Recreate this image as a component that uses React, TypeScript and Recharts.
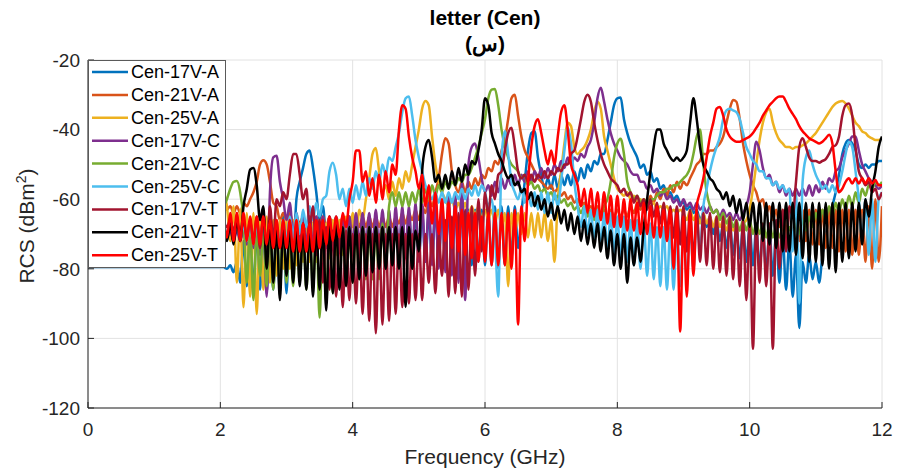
import React from 'react';
import { LineChart, Line, XAxis, YAxis, CartesianGrid } from 'recharts';

const FONT = '"Liberation Sans", Arial, Helvetica, sans-serif';

// Frequency axis (GHz): a few points before 2 GHz, then a 0.05 GHz grid from 2 to 12 GHz
const PREFIX_FREQ = [0, 0.5, 1, 1.5];
const GRID_FREQ = Array.from({ length: 201 }, (_, i) => Math.round((2 + i * 0.05) * 100) / 100);
const FREQ = [...PREFIX_FREQ, ...GRID_FREQ];

const X_TICKS = [0, 2, 4, 6, 8, 10, 12];
const Y_TICKS = [-120, -100, -80, -60, -40, -20];

// RCS values (dBm^2) on the 2..12 GHz grid, one row per GHz (2.00..2.95, 3.00..3.95, ...), last value = 12 GHz
const A17_PREFIX = [-79.5, -79.5, -79.5, -79.5];
const A17 = [
  -79.5, -79.5, -80, -79, -81, -78, -84, -72, -85, -70, -86, -69, -86, -68, -87, -67, -86, -66, -87, -65,
  -87, -63, -75, -60, -55, -51, -47, -46, -51, -58, -66, -62, -70, -65, -72, -66, -74, -66, -75, -67,
  -76, -66, -77, -66, -76, -65, -77, -66, -76, -65, -77, -65, -76, -65, -77, -64, -76, -64, -77, -64,
  -77, -64, -78, -64, -77, -63, -78, -63, -77, -63, -78, -63, -78, -63, -78, -63, -79, -63, -78, -63,
  -79, -63, -79, -62, -80, -62, -79, -62, -77, -62, -74, -64, -55, -46, -41, -40.5, -48, -53, -57, -54,
  -57, -53, -57, -53, -56, -53, -56, -52, -55, -51, -54, -50, -52, -49, -50, -47, -47, -43, -38, -33,
  -31, -30.8, -37, -41, -44, -46, -48, -51, -50, -53, -52, -55, -54, -57, -56, -59, -58, -60, -59, -61,
  -61, -63, -62, -64, -63, -66, -64, -68, -65, -70, -66, -72, -67, -74, -67, -76, -68, -77, -68, -78,
  -68, -79, -68, -80, -69, -81, -69, -82, -70, -84, -71, -86, -72, -88, -76, -97, -78, -84, -76, -83,
  -78, -84, -76, -70, -66, -62, -58, -53, -47, -44, -43, -44, -46, -50, -51, -50, -51, -50, -50, -49,
  -49,
];
const A21 = [
  null, -62, -63, -62, -64, -62, -64, -61, -62, -60, -58, -55, -50, -48.8, -50, -55, -61, -62, -66, -64,
  -66, -64, -67, -65, -67, -65, -68, -65, -68, -65, -68, -65, -68, -65, -68, -65, -68, -65, -68, -65,
  -68, -65, -68, -65, -68, -65, -68, -65, -68, -65, -68, -65, -68, -65, -67, -64, -67, -64, -66, -63,
  -66, -62, -64, -60, -62, -58, -54, -47, -42.5, -44, -52, -56, -58, -55, -58, -55, -57, -54, -56, -53,
  -54, -51, -52, -49, -50, -46, -43, -37, -31, -30, -36, -42, -46, -48, -50, -52, -54, -55, -56, -57,
  -56, -58, -57, -59, -58, -60, -59, -61, -60, -62, -61, -63, -62, -64, -62, -65, -63, -65, -63, -65,
  -63, -65, -63, -65, -62, -64, -61, -63, -60, -62, -59, -61, -58, -60, -57, -59, -56, -58, -55, -57,
  -55, -56, -54, -52, -50, -49, -47, -47, -46, -46, -45, -44, -42, -38, -34, -31.5, -32, -37, -44, -49,
  -53, -56, -58, -61, -60, -64, -62, -66, -63, -68, -63, -70, -63, -71, -63, -72, -63, -72, -63, -73,
  -63, -73, -63, -74, -63, -74, -63, -75, -63, -75, -63, -76, -63, -76, -63, -78, -62, -80, -60, -78,
  -62,
];
const A25 = [
  null, -58, -62, -72, -62, -84, -63, -91, -64, -88, -64, -93, -65, -86, -65, -84, -66, -82, -66, -80,
  -66, -80, -66, -79, -67, -78, -67, -78, -67, -78, -67, -77, -67, -77, -66, -76, -66, -76, -65, -74,
  -64, -72, -63, -66, -60, -54, -47, -45.3, -52, -58, -56, -60, -55, -59, -54, -57, -52, -55, -50, -45,
  -40, -34, -31.8, -33, -42, -50, -55, -58, -60, -62, -60, -63, -61, -64, -61, -65, -62, -65, -62, -66,
  -63, -66, -63, -67, -63, -68, -64, -85, -64, -70, -64, -70, -64, -71, -64, -71, -64, -71, -64, -72,
  -66, -78, -60, -52, -44, -38, -39, -45, -47, -46, -45, -43, -40, -35, -32, -34, -42, -46, -50, -54,
  -57, -58, -59, -58, -60, -59, -61, -60, -62, -61, -62, -61, -63, -62, -63, -62, -64, -63, -64, -63,
  -64, -66, -63, -66, -64, -67, -64, -67, -65, -68, -65, -68, -66, -69, -66, -69, -67, -69, -67, -66,
  -63, -57, -50, -43, -38, -35, -34, -38, -41, -43, -44, -45, -45, -45.5, -45, -45, -44.5, -44, -43, -42,
  -41, -39.5, -38, -36.5, -35, -33.5, -32.5, -32, -31.8, -32.5, -34, -36, -38, -39, -40.5, -41, -42, -42.5, -43, -43,
  -42.5,
];
const C17 = [
  null, -70, -71, -69, -72, -69, -72, -69, -73, -68, -74, -67, -76, -64, -88, -58, -48, -47.5, -55, -60,
  -66, -61, -70, -64, -72, -65, -73, -65, -73, -65, -74, -65, -74, -65, -74, -65, -74, -65, -73, -65,
  -73, -64, -73, -64, -74, -64, -74, -63, -75, -63, -75, -63, -76, -62, -76, -62, -77, -62, -77, -61,
  -78, -61, -78, -61, -79, -60, -80, -60, -81, -59, -82, -58, -84, -55, -89, -50, -45, -44, -48, -54,
  -58, -56, -59, -55, -58, -54, -57, -54, -56, -53, -56, -53, -55, -52, -55, -52, -54, -51, -54, -51,
  -53, -50, -52, -49, -51, -48, -50, -48, -49, -47, -48, -45, -43, -38, -31, -28, -32, -37, -41, -44,
  -46, -48, -49, -50, -52, -53, -53, -55, -55, -57, -56, -58, -57, -59, -58, -60, -59, -61, -60, -62,
  -60, -62, -61, -63, -61, -63, -62, -64, -62, -64, -63, -65, -63, -65, -64, -66, -64, -66, -64, -62,
  -58, -50, -43.5, -46, -51, -54, -53, -56, -55, -58, -56, -59, -57, -59, -57, -59, -57, -59, -56, -59,
  -56, -58, -55, -57, -54, -55, -52, -51, -48, -46, -44, -42, -42, -46, -50, -52, -54, -55, -56, -57,
  -56,
];
const C21 = [
  null, -62, -60, -57, -55, -54.8, -58, -66, -84, -67, -89, -68, -82, -68, -85, -68, -86, -68, -84, -68,
  -84, -68, -85, -68, -84, -68, -86, -68, -86, -68, -94, -68, -90, -68, -87, -68, -85, -68, -84, -68,
  -84, -68, -83, -68, -83, -68, -83, -68, -83, -67, -80, -62, -58, -62, -58, -62, -58, -62, -58, -61,
  -57, -61, -57, -60, -56, -59, -56, -58, -55, -57, -55, -56, -54, -55, -53, -53, -51, -48, -45, -41,
  -37, -31, -28.5, -28.3, -33, -40, -45, -48, -50, -51, -52, -54, -53, -56, -55, -57, -56, -58, -57, -59,
  -58, -60, -59, -61, -60, -62, -61, -63, -62, -64, -62, -65, -63, -66, -63, -66, -62, -60, -55, -48,
  -44, -42.6, -47, -55, -58, -60, -59, -61, -60, -61, -60, -60, -59, -58, -58, -57, -57, -56, -56, -55,
  -54, -53, -51, -47, -42, -40, -50, -58, -62, -64, -63, -66, -64, -67, -65, -68, -66, -69, -66, -69,
  -66, -70, -67, -70, -67, -71, -67, -71, -68, -71, -68, -71, -68, -71, -67, -70, -66, -69, -65, -68,
  -64, -67, -63, -66, -62, -65, -61, -64, -60, -63, -59, -62, -58, -61, -57, -59, -56, -57, -55, -56,
  -55,
];
const C25 = [
  null, -66, -70, -67, -71, -67, -72, -67, -72, -67, -73, -67, -73, -67, -73, -67, -73, -67, -73, -66,
  -72, -65, -71, -64, -70, -63, -68, -62, -66, -61, -65, -60, -59, -52, -49.5, -53, -60, -57, -62, -57,
  -61, -56, -60, -55, -59, -54, -57, -52, -55, -50, -53, -48, -49, -45, -41, -35, -31, -30.5, -36, -43,
  -48, -52, -56, -58, -60, -58, -61, -58, -61, -58, -61, -58, -60, -57, -60, -57, -59, -56, -59, -56,
  -58, -62, -60, -70, -88, -48, -40.5, -47, -55, -58, -60, -57, -61, -58, -62, -58, -63, -58, -64, -58,
  -64, -58, -62, -55, -46, -39.5, -44, -55, -62, -68, -62, -70, -63, -72, -63, -73, -64, -75, -64, -76,
  -65, -77, -65, -78, -66, -79, -66, -80, -67, -82, -67, -83, -68, -85, -68, -86, -68, -86, -68, -85,
  -68, -83, -68, -80, -66, -74, -62, -57, -52, -48, -45, -42, -37, -34.5, -34, -34.5, -35, -37, -41, -45,
  -47, -49, -50, -52, -52, -54, -54, -56, -55, -57, -56, -58, -57, -75, -58, -90, -55, -48, -46, -50,
  -53, -55, -57, -56, -58, -56, -58, -56, -52, -47, -43.5, -45, -52, -60, -72, -60, -76, -60, -78, -60,
  -58,
];
const T17 = [
  null, -66, -68, -66, -69, -66, -70, -66, -71, -66, -72, -65, -74, -64, -75, -62, -72, -60, -62, -58,
  -60, -53, -47, -47, -53, -60, -57, -68, -62, -76, -66, -84, -68, -86, -69, -88, -69, -91, -69, -89,
  -70, -90, -70, -93, -70, -95, -70, -98.5, -70, -96, -70, -95, -70, -93, -70, -91, -70, -90, -70, -89,
  -70, -89, -70, -84, -70, -87, -70, -82, -66, -88, -65, -87, -64, -88, -63, -86, -62, -82, -60, -75,
  -58, -65, -56, -60, -53, -52, -46, -41, -39.5, -45, -52, -54, -53, -55, -53, -55, -53, -54, -52, -54,
  -52, -53, -51, -52, -50, -50, -47, -46, -42, -37, -32, -30, -32, -38, -43, -47, -50, -52, -54, -55,
  -56, -58, -57, -59, -58, -61, -59, -62, -60, -63, -60, -65, -61, -67, -61, -69, -62, -71, -62, -73,
  -62, -75, -63, -77, -63, -78, -64, -79, -64, -80, -65, -81, -65, -82, -65, -83, -66, -85, -66, -89,
  -67, -103, -67, -84, -67, -85, -67, -103, -66, -80, -63, -75, -62, -65, -55, -45, -42.5, -45, -48, -49,
  -49, -49.5, -49, -48.5, -47, -45, -44.5, -42, -36, -33, -32.5, -36, -45, -52, -54, -56, -55, -58, -57, -60,
  -58,
];
const T21 = [
  null, -68, -72, -67, -73, -66, -72, -62, -57, -51.5, -51, -56, -66, -62, -80, -66, -84, -67, -89, -67,
  -82, -67, -84, -67, -85, -67, -86, -67, -88, -67, -86, -67, -92, -67, -87, -67, -86, -68, -85, -68,
  -84, -68, -83, -68, -82, -68, -81, -68, -80, -68, -80, -68, -79, -68, -80, -68, -91, -68, -80, -69,
  -75, -52, -45, -43, -48, -55, -53, -57, -53, -57, -52, -56, -51, -55, -50, -53, -49, -50, -46, -40,
  -31, -33, -41, -44, -47, -49, -52, -54, -53, -56, -55, -58, -57, -60, -58, -62, -59, -63, -60, -65,
  -61, -66, -62, -67, -63, -69, -64, -70, -65, -72, -66, -73, -67, -74, -67, -75, -68, -77, -69, -79,
  -70, -80, -70, -84, -71, -79, -71, -78, -68, -60, -52, -45, -40, -40, -44, -46, -48, -49, -48, -49,
  -48, -46, -38, -31, -37, -45, -50, -52, -54, -55, -57, -58, -60, -58, -62, -59, -64, -60, -66, -61,
  -68, -61, -70, -61, -72, -61, -73, -61, -74, -61, -75, -61, -75, -61, -76, -61, -77, -61, -78, -61,
  -78, -61, -79, -61, -80, -61, -81, -61, -78, -61, -77, -61, -75, -61, -73, -60, -65, -57, -52, -45,
  -42,
];
const T25 = [
  null, -64, -71, -64, -72, -64, -72, -64, -72, -65, -73, -65, -73, -65, -73, -66, -74, -66, -74, -66,
  -74, -66, -75, -66, -75, -67, -75, -67, -75, -66, -74, -66, -73, -65, -72, -65, -71, -64, -68, -60,
  -55, -46, -46, -55, -52, -59, -54, -61, -53, -60, -52, -58, -50, -53, -40, -33, -34, -42, -48, -52,
  -57, -53, -62, -56, -67, -58, -70, -60, -72, -61, -74, -62, -75, -63, -76, -64, -77, -64, -78, -65,
  -78, -64, -79, -64, -79, -64, -79, -64, -80, -63, -96, -62, -72, -55, -45, -39, -37, -41, -46, -50,
  -46, -50, -42, -35, -33, -40, -50, -53, -56, -62, -57, -64, -57, -65, -58, -66, -58, -67, -59, -68,
  -59, -68, -60, -69, -60, -69, -61, -70, -61, -70, -62, -71, -62, -71, -63, -72, -63, -80, -64, -98,
  -65, -88, -64, -82, -62, -58, -54, -48, -42, -38, -34, -33.5, -36, -40, -42, -43, -43.5, -43.5, -43, -42.5,
  -42, -41, -39.5, -38, -36, -34.5, -33, -32, -31, -30.5, -30.5, -32, -34, -35.5, -37, -39, -40.5, -41.5, -42.5, -43,
  -43.5, -44, -43.5, -42.5, -41.5, -44, -52, -58, -57, -55, -54, -55.5, -54, -55.5, -54, -55.5, -54, -55.5, -54.5, -56,
  -56,
];

const NO_PREFIX = [null, null, null, null];

const SERIES = [
  { key: 'a17', name: 'Cen-17V-A', color: '#0072BD', values: [...A17_PREFIX, ...A17] },
  { key: 'a21', name: 'Cen-21V-A', color: '#D95319', values: [...NO_PREFIX, ...A21] },
  { key: 'a25', name: 'Cen-25V-A', color: '#EDB120', values: [...NO_PREFIX, ...A25] },
  { key: 'c17', name: 'Cen-17V-C', color: '#7E2F8E', values: [...NO_PREFIX, ...C17] },
  { key: 'c21', name: 'Cen-21V-C', color: '#77AC30', values: [...NO_PREFIX, ...C21] },
  { key: 'c25', name: 'Cen-25V-C', color: '#4DBEEE', values: [...NO_PREFIX, ...C25] },
  { key: 't17', name: 'Cen-17V-T', color: '#A2142F', values: [...NO_PREFIX, ...T17] },
  { key: 't21', name: 'Cen-21V-T', color: '#000000', values: [...NO_PREFIX, ...T21] },
  { key: 't25', name: 'Cen-25V-T', color: '#FF0000', values: [...NO_PREFIX, ...T25] },
];

const rows = FREQ.map((f, i) => {
  const r: Record<string, number | null> = { f };
  SERIES.forEach((s) => {
    const v = s.values[i];
    r[s.key] = v === undefined ? null : v;
  });
  return r;
});

const AX = '#262626';

export default function App() {
  const legendTop = 60;
  const rowH = 22.9;
  return (
    <div style={{ position: 'absolute', left: 0, top: 0, width: 897, height: 472, background: '#fff', fontFamily: FONT }}>
      <LineChart width={897} height={472} data={rows} margin={{ top: 60, right: 15, bottom: 0, left: 0 }}>
        <CartesianGrid stroke="#e2e2e2" strokeWidth={1} />
        <XAxis
          dataKey="f"
          type="number"
          domain={[0, 12]}
          ticks={X_TICKS}
          interval={0}
          height={64}
          tickSize={-6}
          tickMargin={21}
          axisLine={{ stroke: AX }}
          tickLine={{ stroke: AX }}
          tick={{ fill: AX, fontSize: 19, fontFamily: FONT }}
          allowDataOverflow
        />
        <YAxis
          type="number"
          domain={[-120, -20]}
          ticks={Y_TICKS}
          interval={0}
          width={88}
          tickSize={-6}
          tickMargin={14}
          axisLine={{ stroke: AX }}
          tickLine={{ stroke: AX }}
          tick={{ fill: AX, fontSize: 19, fontFamily: FONT }}
          allowDataOverflow
        />
        {SERIES.map((s) => (
          <Line
            key={s.key}
            dataKey={s.key}
            name={s.name}
            type="monotone"
            stroke={s.color}
            strokeWidth={2.5}
            dot={false}
            activeDot={false}
            isAnimationActive={false}
            connectNulls={false}
          />
        ))}
      </LineChart>
      <svg
        width={897}
        height={472}
        style={{ position: 'absolute', left: 0, top: 0, pointerEvents: 'none' }}
        fontFamily={FONT}
      >
        <text x={485} y={25} textAnchor="middle" fontSize={21} fontWeight="bold" fill="#000">letter (Cen)</text>
        <text x={485} y={51} textAnchor="middle" fontSize={21} fontWeight="bold" fill="#000">(س)</text>
        <text x={485} y={464} textAnchor="middle" fontSize={21} fill={AX}>Frequency (GHz)</text>
        <text transform="translate(34,226) rotate(-90)" textAnchor="middle" fontSize={21} fill={AX}>
          RCS (dBm<tspan dy={-8} fontSize={14}>2</tspan><tspan dy={8}>)</tspan>
        </text>
        <rect x={88.5} y={60.5} width={137} height={207} fill="#fff" stroke="#5a5a5a" strokeWidth={1} />
        {SERIES.map((s, i) => {
          const cy = legendTop + 12 + i * rowH;
          return (
            <g key={s.key}>
              <line x1={92} x2={128} y1={cy} y2={cy} stroke={s.color} strokeWidth={2.5} />
              <text x={131} y={cy} dominantBaseline="central" fontSize={18} fill="#000">{s.name}</text>
            </g>
          );
        })}
      </svg>
    </div>
  );
}
